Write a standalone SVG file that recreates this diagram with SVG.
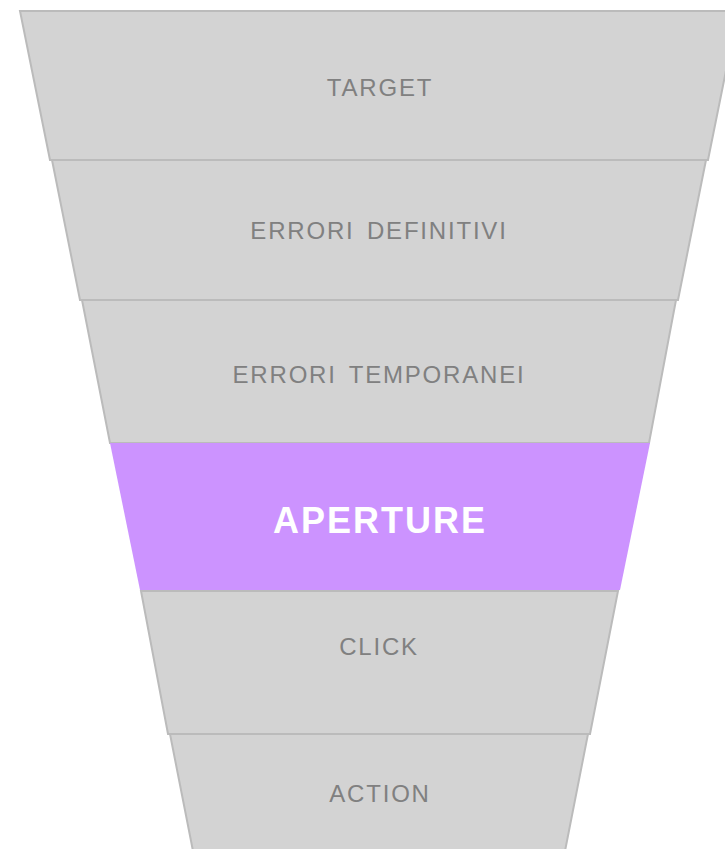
<svg xmlns="http://www.w3.org/2000/svg" width="725" height="849" viewBox="0 0 725 849">
<style>
.band{fill:#d3d3d3;stroke:#bbbbbb;stroke-width:2}
.hl{fill:#cc93ff;stroke:none}
.lbl{font-family:"Liberation Sans",Arial,sans-serif;font-size:24px;fill:#808080;text-anchor:middle;letter-spacing:1.8px;word-spacing:4px}
.lblh{font-family:"Liberation Sans",Arial,sans-serif;font-size:36px;font-weight:bold;fill:#ffffff;text-anchor:middle;letter-spacing:2px}
</style>
<rect width="725" height="849" fill="#ffffff"/>
<g id="target">
<polygon class="band" points="20,11 738,11 708,160 50,160"/>
<text class="lbl" x="380" y="96">TARGET</text>
</g>
<g id="errori-definitivi">
<polygon class="band" points="52,160 706,160 678,300 80,300"/>
<text class="lbl" x="379" y="239">ERRORI DEFINITIVI</text>
</g>
<g id="errori-temporanei">
<polygon class="band" points="82,300 676,300 649,443 110,443"/>
<text class="lbl" x="379" y="383">ERRORI TEMPORANEI</text>
</g>
<g id="aperture">
<polygon class="hl" points="110,443 650,443 620,590 140,590"/>
<text class="lblh" x="380" y="533">APERTURE</text>
</g>
<g id="click">
<polygon class="band" points="141,591 618,591 590,734 168,734"/>
<text class="lbl" x="379" y="655">CLICK</text>
</g>
<g id="action">
<polygon class="band" points="170,734 588,734 565,851 193,851"/>
<text class="lbl" x="380" y="802">ACTION</text>
</g>
</svg>
